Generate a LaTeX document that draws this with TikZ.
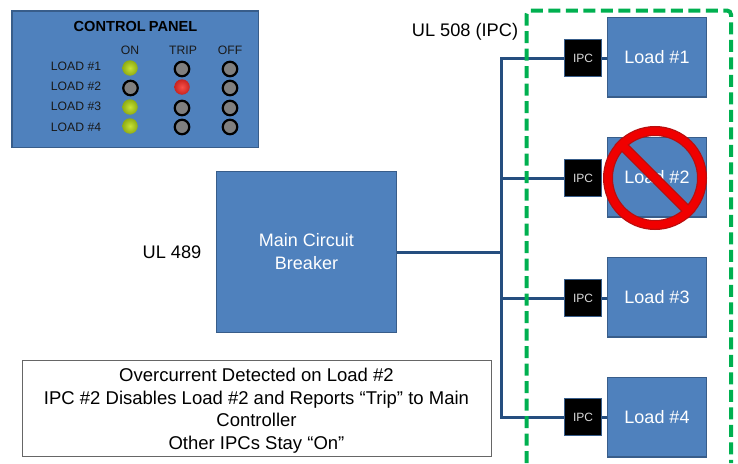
\documentclass[tikz,border=0pt]{standalone}
\usepackage{fontspec}
\setmainfont{Liberation Sans}
\definecolor{boxblue}{HTML}{4F81BD}
\definecolor{boxedge}{HTML}{385D8A}
\definecolor{wireblue}{HTML}{254E7F}
\definecolor{framegreen}{HTML}{00B050}
\definecolor{stopred}{HTML}{F00000}
\definecolor{stopedge}{HTML}{B80F0F}
\definecolor{ledgray}{HTML}{7F7F7F}
\definecolor{ledlime}{HTML}{C8E234}
\definecolor{ledolive}{HTML}{8FAC14}
\definecolor{ledpink}{HTML}{F85048}
\definecolor{leddark}{HTML}{C82420}
\begin{document}
\begin{tikzpicture} [x=1pt, y=-1pt, node distance=20pt,
	block/.style={rectangle, draw=boxedge, line width=1.5pt, fill=boxblue, text=white, align=center, inner sep=0pt, font=\fontsize{18}{23}\selectfont},
	load/.style={block, minimum width=99pt, minimum height=79.5pt},
	ipc/.style={rectangle, draw=boxedge, line width=1.5pt, fill=black, text=white!85!black, inner sep=0pt, minimum size=37pt, font=\fontsize{12}{14}\selectfont},
	wire/.style={draw=wireblue, line width=3pt},
	panelhead/.style={font=\fontsize{12.2}{14}\selectfont, text=black!90, inner sep=0pt},
	ledoff/.style={circle, draw=black, line width=2.2pt, fill=ledgray, inner sep=0pt, minimum size=14.5pt},
	ledgreen/.style={circle, inner sep=0pt, minimum size=15.5pt, shade, inner color=ledlime, outer color=ledolive},
	ledred/.style={circle, inner sep=0pt, minimum size=15.5pt, shade, inner color=ledpink, outer color=leddark},
	caption/.style={font=\fontsize{18.2}{23}\selectfont, inner sep=0pt}]
	\useasboundingbox (0,0) rectangle (738,463);

	% control panel
	\node [block, minimum width=246.5pt, minimum height=136.5pt] (panel) at (135,79) {};
	\node [inner sep=0pt, font=\fontsize{14.6}{17}\bfseries\selectfont] (paneltitle) at (135.5,26) {CONTROL\hspace{-1pt} PANEL};
	\node [panelhead] (headon) at (130,50) {ON};
	\node [panelhead] (headtrip) at (183,50) {TRIP};
	\node [panelhead] (headoff) at (230,50) {OFF};
	\node [panelhead] (name1) at (76,66) {LOAD \#1};
	\node [panelhead, below of=name1] (name2) {LOAD \#2};
	\node [panelhead, below of=name2] (name3) {LOAD \#3};
	\node [panelhead, below of=name3, node distance=21pt] (name4) {LOAD \#4};
	\node [ledgreen] (on1) at (130,68) {};
	\node [ledoff] (on2) at (130.5,88) {};
	\node [ledgreen] (on3) at (130,107) {};
	\node [ledgreen] (on4) at (130,126) {};
	\node [ledoff] (trip1) at (182,69) {};
	\node [ledred] (trip2) at (182,87) {};
	\node [ledoff] (trip3) at (182,108) {};
	\node [ledoff] (trip4) at (182,127) {};
	\node [ledoff] (off1) at (230,69) {};
	\node [ledoff] (off2) at (230,88) {};
	\node [ledoff] (off3) at (230,108) {};
	\node [ledoff] (off4) at (230,127) {};

	% breaker and loads
	\node [block, minimum width=180pt, minimum height=161pt] (main) at (306.5,252) {Main Circuit\\Breaker};
	\node [load] (load1) at (657,57) {Load \#1};
	\node [load, below of=load1, node distance=120pt] (load2) {Load \#2};
	\node [load, below of=load2, node distance=120pt] (load3) {Load \#3};
	\node [load, below of=load3, node distance=120pt] (load4) {Load \#4};
	\node [ipc] (ipc1) at (583,58) {IPC};
	\node [ipc, below of=ipc1, node distance=120pt] (ipc2) {IPC};
	\node [ipc, below of=ipc2, node distance=120pt] (ipc3) {IPC};
	\node [ipc, below of=ipc3, node distance=119pt] (ipc4) {IPC};

	% draw edges
	\coordinate (bus) at (501,252);
	\draw [wire] (main) -- (bus);
	\draw [wire] (ipc1) -- (ipc1 -| bus) -- (ipc4 -| bus) -- (ipc4);
	\draw [wire] (ipc2 -| bus) -- (ipc2);
	\draw [wire] (ipc3 -| bus) -- (ipc3);
	\draw [wire] (ipc1) -- (ipc1 -| load1.west);
	\draw [wire] (ipc3) -- (ipc3 -| load3.west);
	\draw [wire] (ipc4) -- (ipc4 -| load4.west);

	% tripped load
	\node [circle, draw=stopedge, line width=10pt, inner sep=0pt, minimum size=94pt] (stopout) at (655,178) {};
	\draw [stopedge, line width=10pt] (stopout.north west) -- (stopout.south east);
	\node [circle, draw=stopred, line width=7.5pt, inner sep=0pt, minimum size=94pt] (stop) at (655,178) {};
	\draw [stopred, line width=7.5pt] (stop.north west) -- (stop.south east);

	% frame, open at the bottom
	\coordinate (frameleft) at (526.5,463);
	\coordinate (frameright) at (731,463);
	\draw [framegreen, line width=4pt, dash pattern=on 12pt off 5.5pt, rounded corners=4pt] (frameleft) -- (526.5,10.5) -- (731,10.5) -- (frameright);

	% labels
	\node [caption] (ul508) at (465,32) {UL 508 (IPC)};
	\node [caption] (ul489) at (172,252.5) {UL 489};
	\node [draw=black!60, line width=1pt, minimum width=469pt, minimum height=96pt, align=center, inner sep=0pt, font=\fontsize{18.5}{22.6}\selectfont] (note) at (256.5,408) {\rule{0pt}{19pt}Overcurrent Detected on Load \#2\\IPC \#2 Disables Load \#2 and Reports “Trip” to Main\\Controller\\Other IPCs Stay “On”};
\end{tikzpicture}
\end{document}
